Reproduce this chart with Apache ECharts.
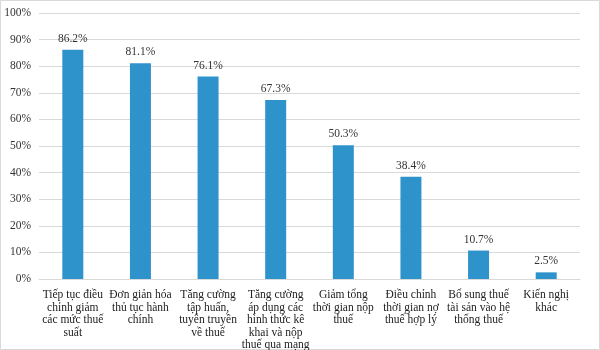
<!DOCTYPE html>
<html><head><meta charset="utf-8">
<script src="https://cdn.jsdelivr.net/npm/echarts@6/dist/echarts.min.js"></script>
<style>html,body{margin:0;padding:0;background:#fff}#c{width:600px;height:350px}</style>
</head><body><div id="c"></div>
<script>
const categories = [
  "Tiếp tục điều\nchỉnh giảm\ncác mức thuế\nsuất",
  "Đơn giản hóa\nthủ tục hành\nchính",
  "Tăng cường\ntập huấn,\ntuyên truyền\nvề thuế",
  "Tăng cường\náp dụng các\nhình thức kê\nkhai và nộp\nthuế qua mạng",
  "Giảm tổng\nthời gian nộp\nthuế",
  "Điều chỉnh\nthời gian nợ\nthuế hợp lý",
  "Bổ sung thuế\ntài sản vào hệ\nthống thuế",
  "Kiến nghị\nkhác"
];
const values = [86.2, 81.1, 76.1, 67.3, 50.3, 38.4, 10.7, 2.5];
const yTicks = [0, 10, 20, 30, 40, 50, 60, 70, 80, 90, 100];

const font = '"Liberation Serif", "Times New Roman", serif';
const chart = echarts.init(document.getElementById('c'), null, {renderer: 'canvas'});
chart.setOption({
  animation: false,
  backgroundColor: '#fff',
  grid: {left: 39, right: 20, top: 13, bottom: 71, containLabel: false, outerBoundsMode: 'none'},
  xAxis: {
    type: 'category', data: categories,
    axisLine: {lineStyle: {color: '#d9d9d9'}},
    axisTick: {show: false},
    axisLabel: {interval: 0, color: '#222', fontFamily: font, fontSize: 11.5, lineHeight: 12.5, margin: 10}
  },
  yAxis: {
    type: 'value', min: yTicks[0], max: yTicks[yTicks.length - 1], interval: 10,
    axisLine: {show: false}, axisTick: {show: false},
    splitLine: {lineStyle: {color: '#d9d9d9'}},
    axisLabel: {color: '#333', fontFamily: font, fontSize: 11.5, margin: 8, formatter: v => v + '%'}
  },
  series: [{
    type: 'bar', data: values, barWidth: 21,
    itemStyle: {color: '#2E93CB'},
    label: {show: true, position: 'top', distance: 5, color: '#333', fontFamily: font, fontSize: 11.5,
      formatter: p => p.value.toFixed(1) + '%'}
  }],
  graphic: [{type: 'rect', shape: {x: 0.5, y: 0.5, width: 599, height: 349}, style: {fill: 'none', stroke: '#d9d9d9', lineWidth: 1}, silent: true}]
});
</script></body></html>
